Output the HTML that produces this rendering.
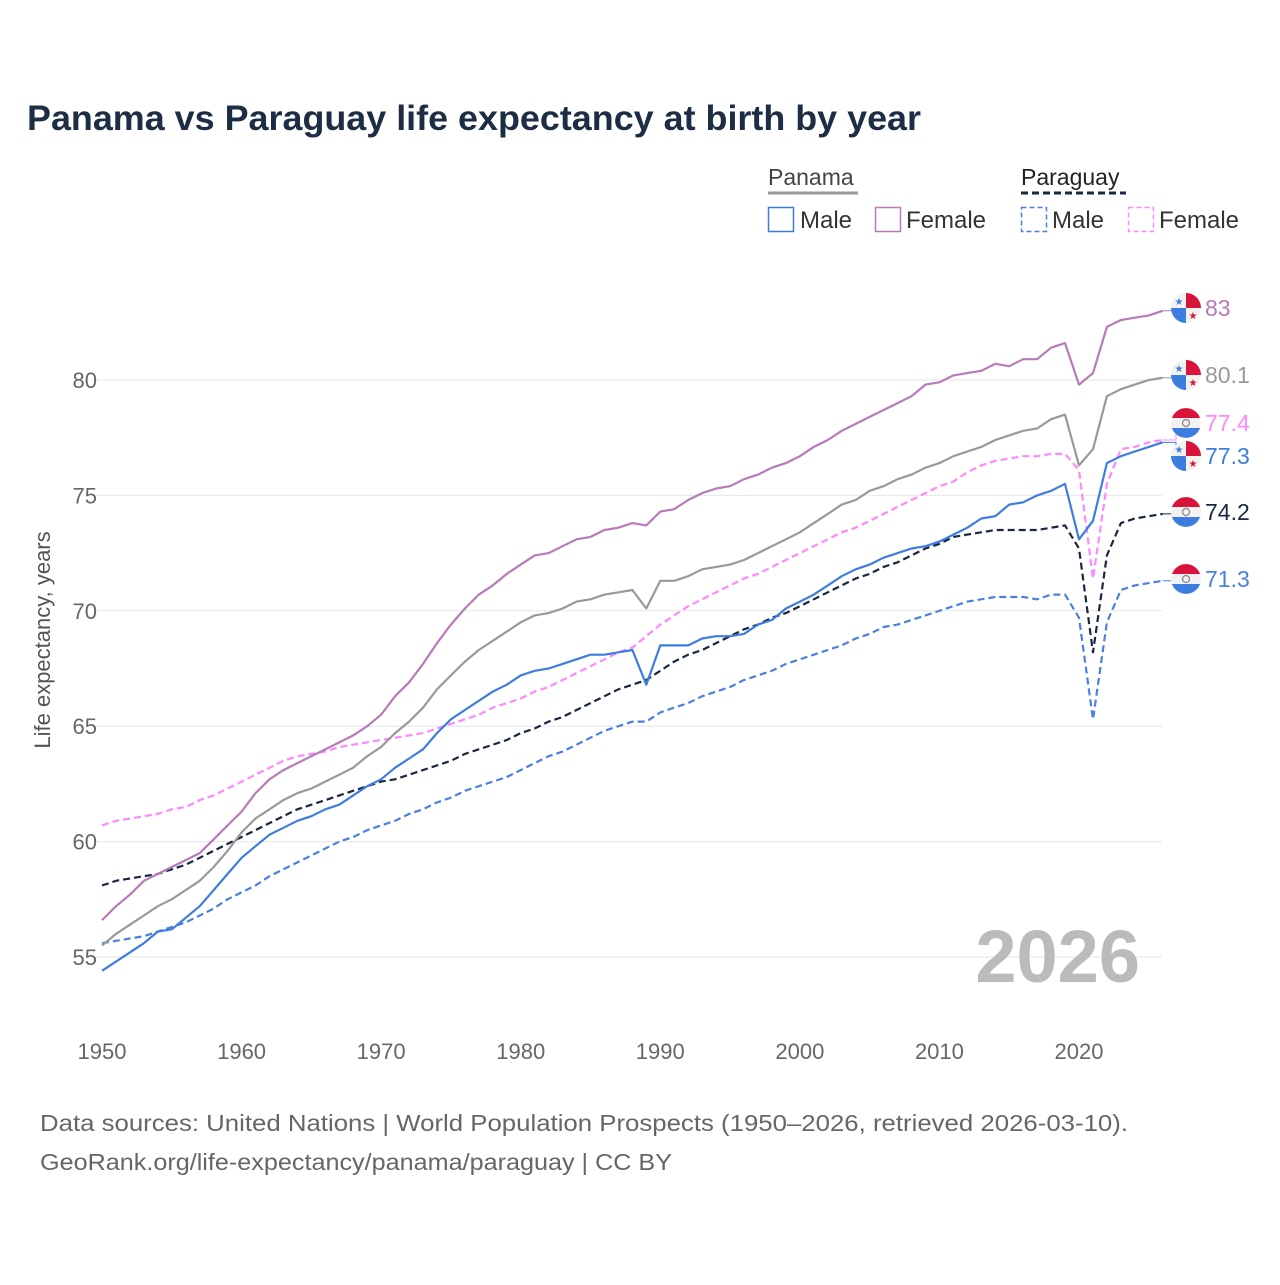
<!DOCTYPE html>
<html><head><meta charset="utf-8"><style>
body{margin:0;background:#fff;}
svg text{font-family:"Liberation Sans",sans-serif;}
</style></head><body>
<svg id="chart" width="1280" height="1280" viewBox="0 0 1280 1280" xmlns="http://www.w3.org/2000/svg">
<rect width="1280" height="1280" fill="#fff"/>
<text x="27" y="130" font-size="35" font-weight="bold" fill="#1d2d44" textLength="894" lengthAdjust="spacingAndGlyphs">Panama vs Paraguay life expectancy at birth by year</text>
<g>
<text x="768" y="185" font-size="23" fill="#444">Panama</text>
<line x1="768" y1="193" x2="858" y2="193" stroke="#999" stroke-width="3"/>
<text x="1021" y="185" font-size="23" fill="#222">Paraguay</text>
<line x1="1021" y1="193" x2="1126" y2="193" stroke="#1a2740" stroke-width="3" stroke-dasharray="7,4"/>
<g><rect x="768.5" y="207.5" width="25" height="24" fill="none" stroke="#3d7de0" stroke-width="1.5"/><text x="800" y="228" font-size="24" fill="#333">Male</text></g>
<g><rect x="875.5" y="207.5" width="25" height="24" fill="none" stroke="#b87ab8" stroke-width="1.5"/><text x="906" y="228" font-size="24" fill="#333">Female</text></g>
<g><rect x="1021.5" y="207.5" width="25" height="24" fill="none" stroke="#4a80e0" stroke-width="1.5" stroke-dasharray="5,3"/><text x="1052" y="228" font-size="24" fill="#333">Male</text></g>
<g><rect x="1128.5" y="207.5" width="25" height="24" fill="none" stroke="#ff88ff" stroke-width="1.5" stroke-dasharray="5,3"/><text x="1159" y="228" font-size="24" fill="#333">Female</text></g>
</g>
<g id="grid"></g>
<text x="1140" y="982" font-size="74" font-weight="bold" fill="#bbb" text-anchor="end">2026</text>
<g id="series"></g>
<g id="labels"></g>
<text transform="translate(50,640) rotate(-90)" font-size="22" fill="#555" text-anchor="middle">Life expectancy, years</text>
<text x="40" y="1131" font-size="23" fill="#666" textLength="1088" lengthAdjust="spacingAndGlyphs">Data sources: United Nations | World Population Prospects (1950–2026, retrieved 2026-03-10).</text>
<text x="40" y="1170" font-size="23" fill="#666" textLength="632" lengthAdjust="spacingAndGlyphs">GeoRank.org/life-expectancy/panama/paraguay | CC BY</text>
</svg>
<script>
const startYear = 1950;
const xTicks = [1950,1960,1970,1980,1990,2000,2010,2020];
const yTicks = [55,60,65,70,75,80];
const panamaFemale = [56.6,57.2,57.7,58.3,58.6,58.9,59.2,59.5,60.1,60.7,61.3,62.1,62.7,63.1,63.4,63.7,64.0,64.3,64.6,65.0,65.5,66.3,66.9,67.7,68.6,69.4,70.1,70.7,71.1,71.6,72.0,72.4,72.5,72.8,73.1,73.2,73.5,73.6,73.8,73.7,74.3,74.4,74.8,75.1,75.3,75.4,75.7,75.9,76.2,76.4,76.7,77.1,77.4,77.8,78.1,78.4,78.7,79.0,79.3,79.8,79.9,80.2,80.3,80.4,80.7,80.6,80.9,80.9,81.4,81.6,79.8,80.3,82.3,82.6,82.7,82.8,83.0];
const panamaTotal = [55.5,56.0,56.4,56.8,57.2,57.5,57.9,58.3,58.9,59.6,60.4,61.0,61.4,61.8,62.1,62.3,62.6,62.9,63.2,63.7,64.1,64.7,65.2,65.8,66.6,67.2,67.8,68.3,68.7,69.1,69.5,69.8,69.9,70.1,70.4,70.5,70.7,70.8,70.9,70.1,71.3,71.3,71.5,71.8,71.9,72.0,72.2,72.5,72.8,73.1,73.4,73.8,74.2,74.6,74.8,75.2,75.4,75.7,75.9,76.2,76.4,76.7,76.9,77.1,77.4,77.6,77.8,77.9,78.3,78.5,76.3,77.0,79.3,79.6,79.8,80.0,80.1];
const panamaMale = [54.4,54.8,55.2,55.6,56.1,56.2,56.7,57.2,57.9,58.6,59.3,59.8,60.3,60.6,60.9,61.1,61.4,61.6,62.0,62.4,62.7,63.2,63.6,64.0,64.7,65.3,65.7,66.1,66.5,66.8,67.2,67.4,67.5,67.7,67.9,68.1,68.1,68.2,68.3,66.8,68.5,68.5,68.5,68.8,68.9,68.9,69.0,69.4,69.6,70.1,70.4,70.7,71.1,71.5,71.8,72.0,72.3,72.5,72.7,72.8,73.0,73.3,73.6,74.0,74.1,74.6,74.7,75.0,75.2,75.5,73.1,73.9,76.4,76.7,76.9,77.1,77.3];
const paraguayFemale = [60.7,60.9,61.0,61.1,61.2,61.4,61.5,61.8,62.0,62.3,62.6,62.9,63.2,63.5,63.7,63.8,63.9,64.1,64.2,64.3,64.4,64.5,64.6,64.7,64.9,65.1,65.3,65.5,65.8,66.0,66.2,66.5,66.7,67.0,67.3,67.6,67.9,68.2,68.4,68.9,69.4,69.8,70.2,70.5,70.8,71.1,71.4,71.6,71.9,72.2,72.5,72.8,73.1,73.4,73.6,73.9,74.2,74.5,74.8,75.1,75.4,75.6,76.0,76.3,76.5,76.6,76.7,76.7,76.8,76.8,76.1,71.4,75.5,77.0,77.1,77.3,77.4];
const paraguayTotal = [58.1,58.3,58.4,58.5,58.6,58.8,59.0,59.3,59.6,59.9,60.2,60.5,60.8,61.1,61.4,61.6,61.8,62.0,62.2,62.4,62.6,62.7,62.9,63.1,63.3,63.5,63.8,64.0,64.2,64.4,64.7,64.9,65.2,65.4,65.7,66.0,66.3,66.6,66.8,67.0,67.4,67.8,68.1,68.3,68.6,68.9,69.2,69.4,69.7,69.9,70.2,70.5,70.8,71.1,71.4,71.6,71.9,72.1,72.4,72.7,72.9,73.2,73.3,73.4,73.5,73.5,73.5,73.5,73.6,73.7,72.7,68.2,72.4,73.8,74.0,74.1,74.2];
const paraguayMale = [55.6,55.7,55.8,55.9,56.1,56.3,56.5,56.8,57.1,57.5,57.8,58.1,58.5,58.8,59.1,59.4,59.7,60.0,60.2,60.5,60.7,60.9,61.2,61.4,61.7,61.9,62.2,62.4,62.6,62.8,63.1,63.4,63.7,63.9,64.2,64.5,64.8,65.0,65.2,65.2,65.6,65.8,66.0,66.3,66.5,66.7,67.0,67.2,67.4,67.7,67.9,68.1,68.3,68.5,68.8,69.0,69.3,69.4,69.6,69.8,70.0,70.2,70.4,70.5,70.6,70.6,70.6,70.5,70.7,70.7,69.7,65.3,69.5,70.9,71.1,71.2,71.3];

const NS="http://www.w3.org/2000/svg";
function xScale(year){return 102+(year-1950)*(1079-102)/70;}
function yScale(v){return 957-(v-55)*(957-380)/25;}
function mk(tag,attrs,parent){const e=document.createElementNS(NS,tag);for(const k in attrs)e.setAttribute(k,attrs[k]);parent.appendChild(e);return e;}
const grid=document.getElementById('grid');
yTicks.forEach(t=>{
  const l=mk('line',{x1:95,x2:1162,y1:yScale(t),y2:yScale(t),stroke:'#e6e6e6','stroke-width':1},grid);
  
  
  const tx=mk('text',{x:97,y:yScale(t)+8,'font-size':22,fill:'#666','text-anchor':'end'},grid);
  tx.textContent=t;
  
  
});
xTicks.forEach(t=>{
  const tx=mk('text',{x:xScale(t),y:1059,'font-size':22,fill:'#666','text-anchor':'middle'},grid);
  tx.textContent=t;
  
  
});
const series=document.getElementById('series');
function drawLine(vals,color,dash,name){
  const d=vals.map((v,i)=>(i?'L':'M')+xScale(startYear+i).toFixed(1)+','+yScale(v).toFixed(1)).join('');
  const p=mk('path',{d:d,fill:'none',stroke:color,'stroke-width':2.2,'stroke-linejoin':'round'},series);
  if(dash)p.setAttribute('stroke-dasharray','7,4');
  
  
}
drawLine(paraguayMale,'#4a80e0',true,'line-paraguay-male');
drawLine(paraguayTotal,'#1a2740',true,'line-paraguay-total');
drawLine(paraguayFemale,'#ff88ff',true,'line-paraguay-female');
drawLine(panamaTotal,'#999999',false,'line-panama-total');
drawLine(panamaMale,'#3d7de0',false,'line-panama-male');
drawLine(panamaFemale,'#b87ab8',false,'line-panama-female');

const labels=document.getElementById('labels');
function panamaFlag(cx,cy,g){
  const r=15;
  mk('circle',{cx:cx,cy:cy,r:r,fill:'#f2f2f2'},g);
  mk('path',{d:`M${cx},${cy}L${cx},${cy-r}A${r},${r} 0 0 1 ${cx+r},${cy}Z`,fill:'#d9143a'},g);
  mk('path',{d:`M${cx},${cy}L${cx-r},${cy}A${r},${r} 0 0 0 ${cx},${cy+r}Z`,fill:'#3d7de0'},g);
  const s1=mk('text',{x:cx-7,y:cy-3,'font-size':10,fill:'#3d7de0','text-anchor':'middle'},g);s1.textContent='★';
  const s2=mk('text',{x:cx+7,y:cy+11,'font-size':10,fill:'#d9143a','text-anchor':'middle'},g);s2.textContent='★';
}
function paraguayFlag(cx,cy,g){
  const r=15;
  mk('circle',{cx:cx,cy:cy,r:r,fill:'#f2f2f2'},g);
  mk('path',{d:`M${cx-r*0.94},${cy-5}A${r},${r} 0 0 1 ${cx+r*0.94},${cy-5}Z`,fill:'#d9143a'},g);
  mk('path',{d:`M${cx-r*0.94},${cy+5}A${r},${r} 0 0 0 ${cx+r*0.94},${cy+5}Z`,fill:'#3d7de0'},g);
  mk('circle',{cx:cx,cy:cy,r:3.5,fill:'none',stroke:'#888','stroke-width':1.3},g);
}
const endLabels=[
  {vals:panamaFemale,color:'#b87ab8',flag:'pa',y:308,name:'end-label-panama-female'},
  {vals:panamaTotal,color:'#999999',flag:'pa',y:375,name:'end-label-panama-total'},
  {vals:paraguayFemale,color:'#ff88ff',flag:'py',y:423,name:'end-label-paraguay-female'},
  {vals:panamaMale,color:'#3d7de0',flag:'pa',y:456,name:'end-label-panama-male'},
  {vals:paraguayTotal,color:'#1a2740',flag:'py',y:512,name:'end-label-paraguay-total'},
  {vals:paraguayMale,color:'#4a80e0',flag:'py',y:579,name:'end-label-paraguay-male'}
];
endLabels.forEach(o=>{
  const g=mk('g',{},labels);
  
  
  const last=o.vals[o.vals.length-1];
  const ex=xScale(startYear+o.vals.length-1), ey=yScale(last);
  mk('path',{d:`M${ex},${ey}L1176,${ey}L1176,${o.y}L1180,${o.y}`,fill:'none',stroke:o.color,'stroke-width':1},g);
  if(o.flag==='pa')panamaFlag(1186,o.y,g);else paraguayFlag(1186,o.y,g);
  const t=mk('text',{x:1205,y:o.y+8,'font-size':23,fill:o.color},g);
  t.textContent=String(last);
});
</script>
</body></html>
